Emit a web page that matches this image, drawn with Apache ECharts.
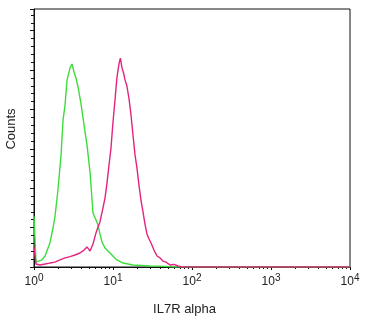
<!DOCTYPE html>
<html>
<head>
<meta charset="utf-8">
<script src="https://cdn.jsdelivr.net/npm/echarts@6/dist/echarts.min.js"></script>
<style>
html,body{margin:0;padding:0;background:#fff;}
#main{width:371px;height:329px;}
</style>
</head>
<body>
<div id="main"></div>
<script>
// intensity (linear) and counts
var greenX = [1.00, 1.06, 1.12, 1.26, 1.38, 1.59, 1.74, 1.84, 2.01, 2.20, 2.33, 2.47, 2.62, 2.86, 3.03, 3.21, 3.40, 3.61, 3.94, 4.30, 4.69, 5.12, 5.58, 6.09, 6.46, 6.84, 7.26, 7.92, 9.16, 11.2, 13.4, 17.9, 29.4, 45.5, 60.9, 10000];
var greenY = [25.9, 2.5, 2.0, 3.6, 5.6, 12.2, 19.8, 25.4, 39.1, 56.9, 74.6, 82.2, 94.9, 101.1, 103.1, 99.0, 96.0, 91.4, 82.7, 72.1, 61.9, 48.2, 27.4, 23.9, 21.3, 16.8, 12.7, 9.6, 7.1, 3.6, 2.0, 1.0, 0.5, 0.3, 0, 0];

var pinkX = [1.00, 1.06, 1.19, 1.38, 1.59, 1.84, 2.13, 2.47, 2.86, 3.30, 3.82, 4.30, 4.69, 4.97, 5.12, 5.58, 6.09, 6.46, 6.84, 7.47, 7.92, 8.40, 8.90, 9.43, 10.0, 10.6, 11.2, 11.9, 12.4, 13.0, 13.6, 14.2, 15.0, 15.9, 16.9, 17.9, 19.0, 20.1, 21.3, 22.6, 24.0, 25.4, 26.9, 28.6, 30.3, 33.0, 36.1, 39.4, 42.9, 46.9, 52.7, 59.2, 66.5, 74.7, 10000];
var pinkY = [10.2, 1.5, 1.0, 1.5, 2.0, 2.5, 3.6, 4.6, 5.3, 6.1, 7.1, 8.6, 10.2, 11.2, 8.1, 11.7, 17.3, 20.3, 22.9, 30.0, 35.0, 42.7, 51.8, 60.4, 73.6, 84.8, 96.0, 103.1, 106.1, 101.1, 98.5, 95.0, 91.9, 85.8, 77.2, 67.0, 56.9, 50.3, 41.6, 34.0, 27.9, 21.8, 16.8, 14.2, 12.2, 8.6, 5.6, 4.6, 3.0, 2.5, 1.0, 1.3, 0.5, 0, 0];

var minorMult = [2, 3, 4, 5, 6, 7, 8, 9];

var minorTicks = [];
for (let d = 0; d < 4; d++) {
  for (let m of minorMult) minorTicks.push(d + Math.log10(m));
}

function toLog(xs, ys) {
  var out = [];
  for (let i = 0; i < xs.length; i++) out.push([Math.log10(xs[i]), ys[i]]);
  return out;
}

var chart = echarts.init(document.getElementById("main"), null, { renderer: "canvas" });
var font = "'Liberation Sans', Arial, sans-serif";
var option = {
  animation: false,
  grid: {
    left: 34, right: 21, top: 9, bottom: 62,
    outerBoundsMode: "none", containLabel: false,
    show: true, borderColor: "#111", borderWidth: 1
  },
  xAxis: [
    {
      type: "value", min: 0, max: 4, interval: 1,
      name: "IL7R alpha", nameLocation: "middle", nameGap: 36,
      nameTextStyle: { fontFamily: font, fontSize: 13, color: "#222", padding: [0, 15, 0, 0] },
      axisLine: { lineStyle: { color: "#111", width: 1 } },
      axisTick: { length: 3, lineStyle: { color: "#111" } },
      splitLine: { show: false },
      axisLabel: {
        margin: 6,
        formatter: function (v) { return "10{s|" + v + "}"; },
        fontFamily: font, fontSize: 12, color: "#222",
        rich: { s: { fontFamily: font, fontSize: 10, color: "#222", verticalAlign: "top", padding: [0, 0, 7, 0] } }
      }
    },
    {
      type: "value", min: 0, max: 4, position: "bottom",
      axisLine: { show: false },
      axisTick: { show: true, length: 2, customValues: minorTicks, lineStyle: { color: "#111" } },
      axisLabel: { show: false },
      splitLine: { show: false }
    }
  ],
  yAxis: {
    type: "value", min: 0, max: 131, interval: 20,
    name: "Counts", nameLocation: "middle", nameGap: 16,
    nameTextStyle: { fontFamily: font, fontSize: 13, color: "#222", padding: [0, 0, 0, 18] },
    axisLine: { show: true, lineStyle: { color: "#111", width: 1 } },
    axisTick: { length: 4, lineStyle: { color: "#111" } },
    minorTick: { show: true, splitNumber: 5, length: 3, lineStyle: { color: "#111" } },
    axisLabel: { show: false },
    splitLine: { show: false }
  },
  series: [
    {
      name: "green", type: "line", xAxisIndex: 0, showSymbol: false,
      lineStyle: { color: "#3ddc3d", width: 1.4 },
      data: toLog(greenX, greenY)
    },
    {
      name: "pink", type: "line", xAxisIndex: 0, showSymbol: false,
      lineStyle: { color: "#e3237f", width: 1.4 },
      data: toLog(pinkX, pinkY)
    }
  ]
};
chart.setOption(option);
</script>
</body>
</html>
